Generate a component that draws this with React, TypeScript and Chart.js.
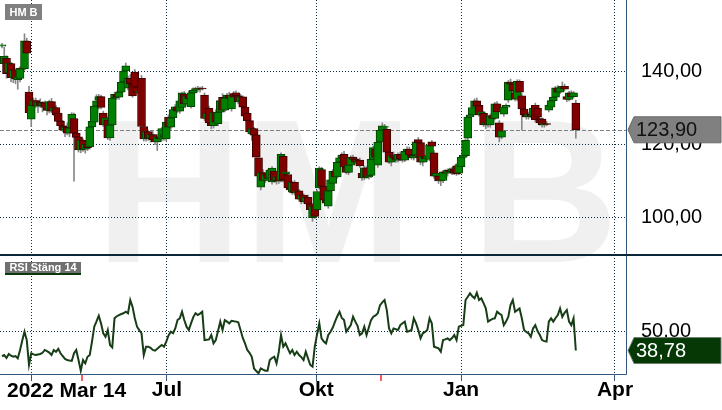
import React, { useEffect, useRef } from 'react';
import { Chart, registerables } from 'chart.js';

Chart.register(...registerables);

const FONT = '"Liberation Sans", Arial, Helvetica, sans-serif';

const symbol = 'HM B';
const rsiTitle = 'RSI Stäng 14';
const startLabel = '2022 Mar 14';

const opens = [
  146.8,142.0,143.5,139.5,142.0,138.2,140.3,137.6,138.0,140.8,
  140.6,148.2,134.2,126.8,130.6,131.9,130.4,131.5,130.6,131.3,
  130.0,129.2,131.6,129.0,130.0,128.5,126.2,125.0,123.8,124.6,
  123.0,124.4,127.0,123.0,122.0,118.4,121.0,118.6,120.0,119.2,
  124.7,126.0,130.4,132.0,133.0,128.5,125.2,126.6,121.7,125.2,
  132.6,133.6,132.8,134.2,137.0,140.0,135.3,138.0,136.5,139.7,
  135.6,134.2,138.0,124.8,121.4,123.4,121.5,122.6,121.2,120.6,
  122.0,121.4,122.0,121.4,127.4,124.6,127.2,129.4,130.2,129.0,
  130.0,133.7,131.0,133.2,130.2,134.0,134.8,135.2,135.0,135.3,
  133.4,127.0,129.8,125.8,125.0,128.6,125.6,128.7,132.8,129.3,
  132.6,133.4,129.6,133.8,134.0,133.2,131.5,132.9,130.1,128.4,
  126.4,122.8,124.2,122.5,116.2,108.2,112.2,110.0,111.6,110.6,
  109.6,112.6,110.0,111.0,110.0,116.6,111.8,111.6,108.0,106.8,
  109.5,106.6,107.2,104.9,106.0,104.2,105.4,103.6,99.8,103.0,
  102.0,108.0,113.0,108.4,104.6,103.0,107.2,109.2,112.6,111.0,
  115.0,116.2,117.2,113.7,112.2,114.2,116.4,115.8,115.2,115.6,
  112.0,110.7,113.5,111.0,111.4,115.8,118.6,114.2,120.6,123.8,
  124.6,124.0,117.8,115.0,116.8,116.2,115.6,117.2,115.9,115.6,
  118.0,118.6,117.0,116.2,117.0,121.2,120.4,115.0,116.6,116.0,
  115.8,120.6,117.6,111.2,111.2,109.9,110.0,112.4,112.0,112.8,
  112.4,113.2,114.0,112.0,113.8,116.4,116.8,121.6,127.4,128.0,
  130.0,131.8,130.6,128.0,128.4,125.2,125.6,125.2,127.8,127.0,
  131.0,125.8,121.9,128.2,130.1,132.0,137.0,136.4,134.0,132.3,
  137.2,133.2,129.6,128.0,127.4,128.2,127.6,130.6,129.8,127.0,
  126.8,125.2,125.6,129.3,130.1,131.9,132.8,135.4,134.2,135.4,
  135.8,133.0,132.2,134.0,133.0,131.2,
];

const highs = [
  147.6,146.5,144.2,142.5,142.4,140.6,140.6,138.8,141.2,141.5,
  150.2,149.0,135.8,131.5,132.6,132.6,132.0,132.4,131.6,131.8,
  131.0,132.0,132.5,130.5,130.6,129.0,127.3,126.5,125.0,125.8,
  125.0,128.6,128.5,123.8,122.5,121.6,121.5,120.6,120.8,125.0,
  126.8,130.8,133.5,133.6,133.4,129.0,127.6,127.4,125.6,133.0,
  134.2,134.4,134.6,137.6,140.4,142.2,138.6,139.0,137.0,140.4,
  136.2,135.0,138.8,125.8,124.0,123.8,123.0,123.4,122.5,122.6,
  122.8,124.6,123.2,126.6,128.0,127.6,129.8,130.8,131.2,132.0,
  134.2,134.4,133.6,134.6,134.4,135.4,135.6,135.8,135.6,135.8,
  134.0,128.8,130.4,126.4,128.8,129.4,129.0,132.4,133.8,133.0,
  133.9,134.2,133.8,134.4,134.6,134.0,133.6,133.2,130.6,128.8,
  127.5,124.6,124.6,123.0,116.8,112.6,113.0,112.0,113.0,113.2,
  113.8,113.0,111.6,111.4,117.6,117.0,112.8,112.0,109.0,109.8,
  110.0,107.8,107.6,106.6,106.4,105.8,106.0,104.0,103.6,103.4,
  107.4,113.8,113.6,109.0,105.0,107.6,110.6,113.0,113.0,115.4,
  116.6,117.6,118.0,114.4,114.8,116.8,117.0,116.2,116.0,116.2,
  112.6,114.0,113.8,111.8,116.2,119.4,119.2,121.0,124.2,125.8,
  125.4,124.8,118.4,117.2,117.8,117.0,117.6,117.8,116.6,118.4,
  119.2,119.2,117.6,117.4,121.0,121.8,120.8,117.0,117.0,117.2,
  120.2,121.0,118.2,112.4,111.6,110.6,112.8,113.0,113.2,113.4,
  113.6,113.6,114.6,114.8,116.8,117.4,121.4,127.8,128.6,130.6,
  132.4,132.6,131.2,129.4,129.0,126.2,126.4,128.2,128.6,131.4,
  131.6,126.4,124.0,130.6,131.0,137.4,137.8,136.8,134.6,137.6,
  137.6,133.8,130.0,128.6,128.6,128.8,130.2,131.2,130.4,127.6,
  127.2,126.0,126.2,131.2,132.4,133.4,135.8,136.0,135.8,137.0,
  136.4,133.6,134.4,134.6,134.4,132.0,
];

const lows = [
  146.3,140.5,138.0,138.8,137.0,136.8,136.5,135.0,137.0,139.5,
  140.2,144.5,128.0,124.8,129.8,130.0,128.6,130.0,128.8,129.5,
  128.0,128.5,128.5,127.8,127.5,125.8,124.8,123.4,122.0,122.5,
  122.0,123.5,109.8,121.4,117.8,117.6,118.0,117.5,118.2,118.6,
  124.0,125.4,129.6,129.6,129.6,124.8,124.6,121.2,121.0,124.6,
  131.8,132.2,132.2,133.5,136.5,139.0,134.8,136.0,132.8,135.2,
  133.8,133.0,124.4,120.8,120.8,121.0,120.5,120.8,119.8,118.2,
  120.6,120.8,121.0,120.8,124.2,124.0,126.6,128.2,128.6,128.4,
  129.4,130.6,130.6,132.0,129.8,133.2,134.0,134.4,134.2,134.8,
  126.4,126.2,125.2,124.2,124.4,125.5,125.0,128.0,128.8,128.8,
  132.0,132.2,129.0,132.4,132.6,131.0,130.6,129.8,127.2,125.8,
  122.8,121.0,121.8,116.0,110.6,107.4,109.6,109.4,110.0,110.0,
  109.0,109.5,109.0,109.2,109.6,109.6,110.8,107.6,106.6,106.2,
  106.0,105.4,104.4,103.6,103.8,103.6,103.0,101.6,98.8,99.6,
  101.4,107.6,107.8,104.2,103.2,102.4,106.6,108.6,110.6,110.6,
  114.0,115.6,113.2,111.8,111.6,113.6,115.4,114.6,114.2,113.6,
  110.0,110.2,110.6,110.4,110.8,115.2,115.8,113.6,120.0,123.2,
  124.0,117.2,114.6,114.0,115.8,115.0,115.0,115.4,115.0,115.2,
  117.4,116.6,115.8,115.6,116.6,120.2,114.4,114.0,115.6,115.2,
  115.4,119.0,110.6,110.6,109.2,108.6,109.4,111.4,111.2,112.0,
  111.6,111.6,111.4,111.6,113.2,115.8,116.2,121.0,126.4,127.6,
  129.6,129.8,127.6,127.0,124.8,124.2,124.6,124.6,126.4,126.6,
  128.2,120.6,121.4,127.6,129.4,131.4,135.8,134.2,131.8,131.8,
  133.6,123.8,127.4,126.8,126.8,127.2,127.0,126.0,126.8,125.2,
  124.6,124.6,125.0,128.8,129.8,131.4,132.4,133.6,133.8,134.6,
  134.6,131.6,131.8,132.6,132.6,121.6,
];

const closes = [
  147.2,144.0,139.3,142.2,138.2,140.2,137.8,138.5,140.8,140.5,
  148.3,144.9,128.6,130.6,131.9,130.4,131.5,130.6,131.2,130.0,
  129.2,131.6,129.0,130.0,128.0,126.2,125.0,123.8,124.6,123.0,
  124.4,128.2,123.0,121.8,118.4,121.0,118.6,120.0,119.0,124.7,
  126.2,130.4,131.8,133.0,130.0,125.2,127.2,121.7,125.2,132.6,
  133.6,132.8,134.2,137.0,140.0,141.4,138.0,136.5,133.2,135.6,
  134.2,134.5,124.8,121.4,123.4,121.5,122.6,121.2,120.6,122.0,
  121.4,124.2,122.6,126.0,124.6,127.2,129.4,130.2,129.0,131.8,
  134.0,131.0,133.2,132.4,134.0,134.8,135.2,135.0,135.3,135.1,
  127.0,128.4,125.8,125.0,128.6,126.0,128.7,131.9,129.3,132.6,
  133.4,132.6,133.4,132.8,133.2,131.5,132.9,130.1,127.6,126.4,
  123.3,124.2,122.4,116.4,111.2,112.2,110.0,111.6,110.6,112.8,
  113.4,110.0,111.0,109.8,117.2,110.2,112.4,108.0,107.4,109.5,
  106.6,107.2,104.9,106.0,104.2,105.4,103.6,102.0,103.0,100.2,
  107.0,113.4,108.4,104.6,103.8,107.2,110.2,112.6,111.0,115.0,
  116.2,117.0,113.7,112.2,114.2,116.4,115.8,115.0,115.6,114.0,
  110.7,113.5,111.0,111.4,115.8,119.0,116.4,120.5,123.8,125.0,
  124.8,117.8,115.0,116.8,116.2,115.6,117.2,115.9,115.6,118.0,
  118.6,117.0,116.2,116.8,120.6,120.4,115.0,116.6,116.0,116.6,
  119.8,119.4,111.2,112.0,109.9,110.2,112.4,112.0,112.8,112.4,
  113.2,112.0,111.8,114.4,116.4,117.0,121.0,127.4,128.0,130.0,
  131.8,130.4,128.0,128.8,125.2,125.8,125.2,127.8,127.0,131.0,
  128.8,121.9,123.6,130.1,130.6,137.0,136.4,134.6,132.3,137.2,
  134.2,129.6,128.0,127.4,128.2,127.6,129.8,126.6,127.4,125.8,
  125.2,125.6,125.4,130.7,131.9,132.8,135.4,134.2,135.4,135.8,
  135.0,132.2,134.0,133.0,134.0,123.9,
];

const rsi = [
  35.5,36.2,34.5,36.8,35.8,35.2,35.6,34.3,39.0,44.5,
  49.6,44.8,30.5,37.2,36.6,36.2,36.5,36.8,37.5,39.1,
  38.4,37.6,36.2,39.1,38.1,39.8,37.2,35.6,34.0,33.3,
  33.0,32.8,37.2,39.1,33.3,27.2,33.3,31.4,35.2,36.2,
  44.0,52.5,55.5,58.8,54.4,48.7,46.7,50.6,42.0,40.6,
  57.3,58.5,59.2,59.8,60.2,61.1,60.2,67.8,64.0,57.5,
  52.5,50.5,48.7,36.2,41.0,41.0,40.4,39.1,38.7,39.8,
  41.0,42.0,41.0,43.9,47.5,49.6,48.7,51.5,56.3,57.3,
  61.1,56.3,52.5,50.6,54.4,58.0,60.2,59.2,60.0,61.1,
  44.8,45.0,45.2,47.7,42.9,44.8,50.0,55.4,50.6,56.3,
  55.4,54.4,55.9,55.6,55.4,55.0,50.6,46.0,42.9,39.1,
  37.5,35.2,28.5,27.0,25.7,28.5,27.8,27.2,27.2,33.3,
  34.5,35.2,31.4,38.0,47.7,41.0,42.9,40.0,37.2,39.1,
  36.2,38.1,36.2,35.0,33.3,38.1,34.3,30.5,29.5,41.0,
  48.0,54.4,45.8,44.0,42.9,47.7,49.6,52.0,55.4,58.5,
  61.1,57.5,56.3,49.6,51.5,53.4,58.2,55.4,53.0,47.7,
  48.7,52.5,47.7,52.0,56.3,58.2,59.0,60.2,64.9,66.5,
  67.8,62.0,51.5,48.7,51.5,51.0,50.6,53.4,54.5,55.4,
  49.6,50.0,50.6,57.3,54.4,50.5,45.8,48.7,49.5,50.6,
  57.3,54.4,41.0,40.5,40.0,38.1,44.8,45.2,45.8,44.8,
  46.0,47.7,44.8,52.5,53.0,53.4,67.8,69.7,71.7,70.0,
  68.8,72.0,67.8,68.8,66.0,63.0,55.4,56.3,57.0,57.3,
  61.1,60.0,59.2,53.4,55.4,58.2,65.0,67.8,61.1,62.0,
  63.0,57.3,50.6,49.5,48.7,46.7,51.5,53.4,50.0,47.7,
  44.8,44.2,43.9,55.4,57.3,55.4,57.5,59.2,63.0,58.2,
  60.5,62.1,55.4,53.4,57.3,38.78,
];

// month boundaries on the trading-day index axis
const tickIdx = [13.3, 73.3, 139.6, 204.0, 272.4];
const tickLabels = ['', 'Jul', 'Okt', 'Jan', 'Apr'];
const priceTicks = [100, 120, 140];
const rsiTicks = [50];
const dividendIdx = [35.6, 168.4];

const X_MIN = -0.89;
const X_MAX = 277.3;
const P_MIN = 89.6;
const P_MAX = 159.45;
const R_MIN = 25.3;
const R_MAX = 93.7;

const fmt = (v: number) => v.toFixed(2).replace('.', ',');

const GRID = '#0d2b3e';
const AXIS = '#34567c';

function drawTag(ctx: CanvasRenderingContext2D, x: number, yc: number, right: number, fill: string, stroke: string, text: string, color: string) {
  const h = 13;
  ctx.beginPath();
  ctx.moveTo(x, yc);
  ctx.lineTo(x + 6, yc - h);
  ctx.lineTo(right, yc - h);
  ctx.lineTo(right, yc + h);
  ctx.lineTo(x + 6, yc + h);
  ctx.closePath();
  ctx.fillStyle = fill;
  ctx.fill();
  ctx.strokeStyle = stroke;
  ctx.lineWidth = 1;
  ctx.stroke();
  ctx.fillStyle = color;
  ctx.font = `20px ${FONT}`;
  ctx.textAlign = 'left';
  ctx.textBaseline = 'middle';
  ctx.fillText(text, x + 8, yc + 1);
}

const noPad = (s: any) => {
  s.paddingTop = 0;
  s.paddingBottom = 0;
  s.paddingLeft = 0;
  s.paddingRight = 0;
};

const decor = {
  id: 'decor',
  beforeDraw(chart: any) {
    const { ctx, width, height } = chart;
    ctx.save();
    ctx.fillStyle = '#ffffff';
    ctx.fillRect(0, 0, width, height);
    ctx.fillStyle = '#f0f0f0';
    ctx.font = `bold 205px ${FONT}`;
    ctx.textAlign = 'left';
    ctx.textBaseline = 'alphabetic';
    ctx.fillText(symbol, 95, 262);
    ctx.restore();
  },
  beforeDatasetsDraw(chart: any) {
    const { ctx, chartArea } = chart;
    const y = Math.round(chart.scales.y.getPixelForValue(closes[closes.length - 1])) + 0.5;
    ctx.save();
    ctx.strokeStyle = '#808080';
    ctx.lineWidth = 1;
    ctx.setLineDash([4, 2]);
    ctx.beginPath();
    ctx.moveTo(chartArea.left, y);
    ctx.lineTo(chartArea.right, y);
    ctx.stroke();
    ctx.restore();
  },
  afterDraw(chart: any) {
    const { ctx, chartArea, width } = chart;
    const ys = chart.scales.y;
    const y2 = chart.scales.y2;
    const xs = chart.scales.x;
    ctx.save();
    // panel borders
    ctx.strokeStyle = AXIS;
    ctx.lineWidth = 1;
    ctx.beginPath();
    ctx.moveTo(chartArea.right + 0.5, chartArea.top);
    ctx.lineTo(chartArea.right + 0.5, chartArea.bottom + 0.5);
    ctx.lineTo(chartArea.left, chartArea.bottom + 0.5);
    ctx.stroke();
    // separator between panels
    ctx.strokeStyle = '#0b2838';
    ctx.lineWidth = 2;
    ctx.beginPath();
    ctx.moveTo(0, ys.bottom);
    ctx.lineTo(width, ys.bottom);
    ctx.stroke();
    // dividend markers
    ctx.strokeStyle = '#ff5a5a';
    ctx.lineWidth = 2;
    dividendIdx.forEach((d) => {
      const x = Math.round(xs.getPixelForValue(d));
      ctx.beginPath();
      ctx.moveTo(x, chartArea.bottom + 1);
      ctx.lineTo(x, chartArea.bottom + 7);
      ctx.stroke();
    });
    // start label
    ctx.fillStyle = '#000';
    ctx.font = `bold 21px ${FONT}`;
    ctx.textAlign = 'left';
    ctx.textBaseline = 'middle';
    ctx.fillText(startLabel, 7, 391);
    // symbol box
    ctx.fillStyle = '#808080';
    ctx.fillRect(5, 4, 37, 16);
    ctx.fillStyle = '#ffffff';
    ctx.font = `bold 11px ${FONT}`;
    ctx.textAlign = 'center';
    ctx.textBaseline = 'middle';
    ctx.fillText(symbol, 23.5, 12.5);
    // RSI title box
    const ry = ys.bottom + 7;
    ctx.fillStyle = '#707070';
    ctx.fillRect(5, ry, 76, 12);
    ctx.fillStyle = '#0a3a0a';
    ctx.fillRect(5, ry + 11, 76, 2);
    ctx.fillStyle = '#ffffff';
    ctx.fillText(rsiTitle, 43, ry + 6);
    // last value tags
    const lastP = closes[closes.length - 1];
    const lastR = rsi[rsi.length - 1];
    drawTag(ctx, chartArea.right + 2, ys.getPixelForValue(lastP), width - 1, '#808080', '#6a6a6a', fmt(lastP), '#111');
    drawTag(ctx, chartArea.right + 2, y2.getPixelForValue(lastR), width - 1, '#063806', '#6f7f6f', fmt(lastR), '#ffffff');
    ctx.restore();
  },
};

export default function App() {
  const ref = useRef<HTMLCanvasElement>(null);
  useEffect(() => {
    const bodyFill = opens.map((o, i) => (closes[i] >= o ? '#008000' : '#800000'));
    const bodyEdge = opens.map((o, i) => (closes[i] >= o ? '#004400' : '#3e0000'));
    const chart = new Chart(ref.current as HTMLCanvasElement, {
      type: 'bar',
      data: {
        datasets: [
          {
            type: 'bar',
            label: 'body',
            data: opens.map((o, i) => ({ x: i, y: [o, closes[i]] })) as any,
            yAxisID: 'y',
            backgroundColor: bodyFill,
            borderColor: bodyEdge,
            borderWidth: 1,
            borderSkipped: false,
            barThickness: 8,
            grouped: false,
            order: 0,
          } as any,
          {
            type: 'bar',
            label: 'wick',
            data: lows.map((l, i) => ({ x: i, y: [l, highs[i]] })) as any,
            yAxisID: 'y',
            backgroundColor: '#888888',
            borderWidth: 0,
            barThickness: 1,
            grouped: false,
            order: 1,
          } as any,
          {
            type: 'line',
            label: 'rsi',
            data: rsi.map((v, i) => ({ x: i, y: v })) as any,
            yAxisID: 'y2',
            borderColor: '#173d17',
            borderWidth: 2,
            pointRadius: 0,
            tension: 0,
            order: 2,
          } as any,
        ],
      },
      options: {
        animation: false,
        responsive: false,
        events: [],
        layout: { padding: 0 },
        plugins: { legend: { display: false }, tooltip: { enabled: false } },
        scales: {
          x: {
            type: 'linear',
            min: X_MIN,
            max: X_MAX,
            offset: false,
            afterBuildTicks: (s: any) => {
              s.ticks = tickIdx.map((v) => ({ value: v }));
            },
            afterFit: (s: any) => {
              s.height = 36;
              noPad(s);
            },
            ticks: {
              autoSkip: false,
              maxRotation: 0,
              minRotation: 0,
              padding: -3,
              color: '#000',
              font: { family: FONT, size: 21, weight: 'bold' },
              callback: (_v: any, i: number) => tickLabels[i],
            },
            grid: {
              offset: false,
              color: GRID,
              lineWidth: 1,
              tickLength: 7,
              tickColor: AXIS,
              tickWidth: 1,
              tickBorderDash: [],
            },
            border: { display: false, dash: [1, 2] },
          },
          y: {
            type: 'linear',
            position: 'right',
            stack: 'panels',
            stackWeight: 255,
            min: P_MIN,
            max: P_MAX,
            afterBuildTicks: (s: any) => {
              s.ticks = priceTicks.map((v) => ({ value: v }));
            },
            afterFit: (s: any) => {
              s.width = 96;
              noPad(s);
            },
            ticks: {
              padding: 15,
              color: '#000',
              font: { family: FONT, size: 20 },
              callback: (v: any) => fmt(Number(v)),
            },
            grid: { drawTicks: false, color: GRID, lineWidth: 1 },
            border: { display: false, dash: [1, 2] },
          },
          y2: {
            type: 'linear',
            position: 'right',
            stack: 'panels',
            stackWeight: 119,
            min: R_MIN,
            max: R_MAX,
            afterBuildTicks: (s: any) => {
              s.ticks = rsiTicks.map((v) => ({ value: v }));
            },
            afterFit: (s: any) => {
              s.width = 96;
              noPad(s);
            },
            ticks: {
              padding: 15,
              color: '#000',
              font: { family: FONT, size: 20 },
              callback: (v: any) => fmt(Number(v)),
            },
            grid: { drawTicks: false, color: GRID, lineWidth: 1 },
            border: { display: false, dash: [1, 2] },
          },
        },
      } as any,
      plugins: [decor],
    });
    return () => chart.destroy();
  }, []);
  return (
    <div style={{ position: 'fixed', left: 0, top: 0, width: 722, height: 410, background: '#fff' }}>
      <canvas ref={ref} width={722} height={410} style={{ display: 'block', width: 722, height: 410 }} />
    </div>
  );
}
